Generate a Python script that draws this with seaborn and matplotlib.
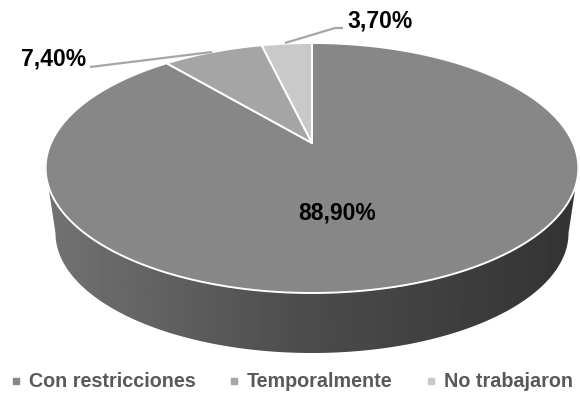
import numpy as np
import matplotlib
matplotlib.use("Agg")
import matplotlib.pyplot as plt
import seaborn as sns
from matplotlib.patches import Polygon
from matplotlib.path import Path
from matplotlib.lines import Line2D

# ---- data ----
categories = ["Con restricciones", "Temporalmente", "No trabajaron"]
values = [88.90, 7.40, 3.70]
colors = ["#878787", "#a5a5a5", "#c9c9c9"]

sns.set_theme(style="white")
plt.rcParams["font.family"] = ["Liberation Sans", "DejaVu Sans"]

W, H = 580, 393
fig = plt.figure(figsize=(W / 100, H / 100), dpi=100)
ax = fig.add_axes([0, 0, 1, 1])

# perspective parameters of the 3D pie (pixel space)
CX, CY = 312.0, 143.0      # projected apex
A0, B0, K = 261.0, 120.0, 0.2
DEPTH = 66.0
SB_X, SB_Y = 0.963, 0.96


def proj(pts, sx=1.0, sy=1.0, dy=0.0):
    x, y = pts[:, 0], pts[:, 1]
    w = 1 + K * y
    return np.column_stack([CX + sx * A0 * x / w, CY + dy - sy * B0 * y / w])


def flatten(path):
    out = []
    for seg, code in path.iter_bezier():
        if code == Path.MOVETO:
            out.append(np.atleast_2d(seg.control_points))
        else:
            out.append(seg(np.linspace(0, 1, 24)))
    return np.vstack(out)


wedges, _ = ax.pie(values, colors=colors, startangle=90, counterclock=False,
                   radius=1.0, center=(0, 0))

for wdg in wedges:
    pts = flatten(wdg.get_path())
    fc = wdg.get_facecolor()
    wdg.remove()
    poly = Polygon(proj(pts), closed=True, facecolor=fc, edgecolor="white",
                   linewidth=1.4, zorder=3, joinstyle="round")
    ax.add_patch(poly)

# side band (front of the cylinder)
t1 = np.pi + np.arcsin(K)
t2 = 2 * np.pi - np.arcsin(K)
tt = np.linspace(t1, t2, 300)
circ = np.column_stack([np.cos(tt), np.sin(tt)])
top_arc = proj(circ)
bot_arc = proj(circ, SB_X, SB_Y, DEPTH)[::-1]
side_pts = np.vstack([top_arc, bot_arc])
side = Polygon(side_pts, closed=True, facecolor="none", edgecolor="none", zorder=1)
ax.add_patch(side)

xs = np.linspace(0, 1, 400)
shade = np.interp(xs, [0, 0.48, 1], [0.45, 0.30, 0.20])
x0, x1 = side_pts[:, 0].min(), side_pts[:, 0].max()
y0, y1 = side_pts[:, 1].min(), side_pts[:, 1].max()
im = ax.imshow(shade[None, :], cmap="gray", vmin=0, vmax=1, aspect="auto",
               extent=(x0, x1, y1, y0), zorder=1, interpolation="bilinear")
im.set_clip_path(side)

# ---- labels ----
def fmt(v):
    return f"{v:.2f}%".replace(".", ",")

lab_kw = dict(fontsize=16.5, fontweight="bold", color="black", zorder=5)
ax.text(337, 213, fmt(values[0]), ha="center", va="center", **lab_kw)
ax.text(54, 59, fmt(values[1]), ha="center", va="center", **lab_kw)
ax.text(347, 21, fmt(values[2]), ha="left", va="center", **lab_kw)

lead_kw = dict(color="#a6a6a6", lw=1.6, zorder=4, solid_capstyle="butt")
ax.plot([90, 212], [67, 52], **lead_kw)
ax.plot([285, 335, 343], [43, 28, 28], **lead_kw)

ax.set_xlim(0, W)
ax.set_ylim(H, 0)
ax.set_aspect("auto")
ax.axis("off")

# ---- legend ----
handles = [Line2D([], [], marker="s", ls="none", markersize=4.6,
                  markerfacecolor=c, markeredgecolor=c) for c in colors]
leg = fig.legend(handles, categories, loc="center", bbox_to_anchor=(0.503, 0.028),
                 ncol=3, frameon=False, handlelength=0.5, handletextpad=0.4,
                 columnspacing=1.7, borderpad=0, borderaxespad=0,
                 prop=dict(family=["Liberation Sans", "DejaVu Sans"], weight="bold", size=14.2))
for t in leg.get_texts():
    t.set_color("#595959")

fig.savefig("out.png", dpi=100, facecolor="white")
